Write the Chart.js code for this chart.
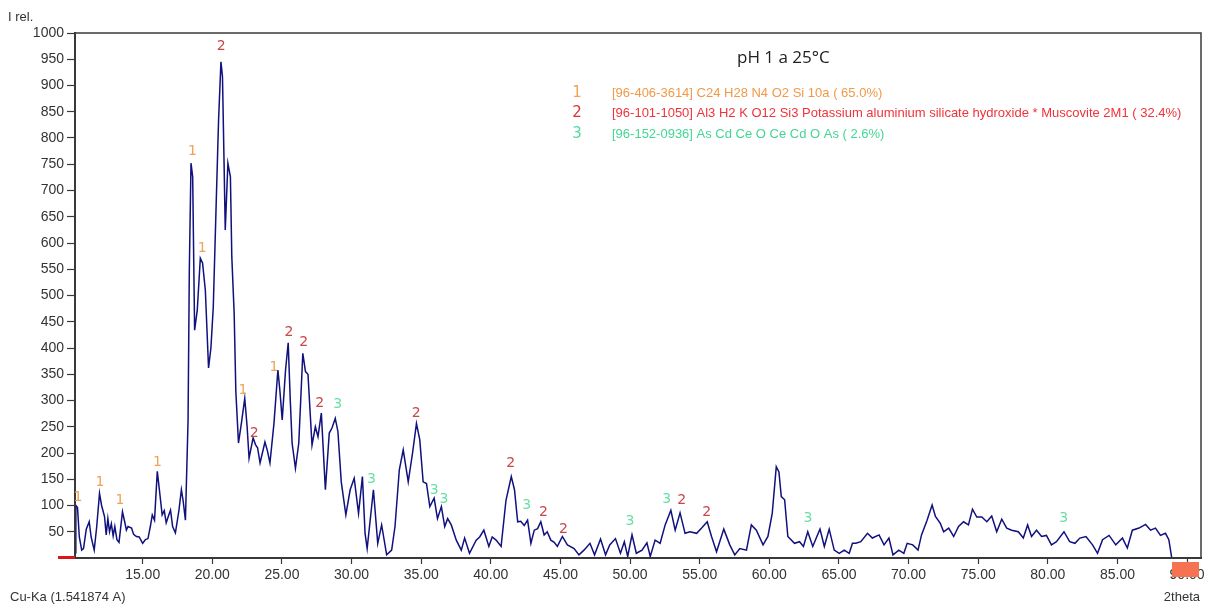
<!DOCTYPE html>
<html>
<head>
<meta charset="utf-8">
<title>pH 1 a 25°C</title>
<script src="https://cdn.jsdelivr.net/npm/chart.js@4/dist/chart.umd.min.js"></script>
<style>
  html, body { margin: 0; padding: 0; background: #fff; }
  #wrap { position: relative; width: 1209px; height: 605px; }
</style>
</head>
<body>
<div id="wrap"><canvas id="xrd"></canvas></div>
<script>
'use strict';

// ── Data ───────────────────────────────────────────────────────────────────────

// diffractogram, 2theta (deg) against relative intensity
const twoTheta = [
  10.15, 10.2, 10.32, 10.45, 10.62, 10.75, 10.95, 11.16, 11.3, 11.52, 11.7, 11.9,
  12.05, 12.26, 12.38, 12.5, 12.62, 12.75, 12.88, 13.0, 13.15, 13.3, 13.55, 13.7,
  13.83, 13.95, 14.2, 14.35, 14.55, 14.75, 15.0, 15.2, 15.38, 15.55, 15.69, 15.85,
  16.05, 16.2, 16.4, 16.55, 16.69, 16.85, 17.0, 17.15, 17.35, 17.6, 17.78, 17.9,
  18.07, 18.26, 18.35, 18.47, 18.59, 18.73, 18.92, 19.14, 19.3, 19.5, 19.73, 19.9,
  20.07, 20.26, 20.45, 20.62, 20.73, 20.85, 20.93, 21.12, 21.3, 21.4, 21.57, 21.69,
  21.88, 22.09, 22.33, 22.5, 22.64, 22.93, 23.1, 23.25, 23.43, 23.78, 23.95, 24.14,
  24.43, 24.71, 24.85, 25.02, 25.26, 25.45, 25.6, 25.73, 25.97, 26.21, 26.5, 26.69,
  26.87, 27.16, 27.4, 27.59, 27.83, 28.12, 28.4, 28.6, 28.83, 29.02, 29.26, 29.59,
  29.9, 30.19, 30.5, 30.78, 30.97, 31.12, 31.57, 31.88, 32.16, 32.52, 32.88, 33.12,
  33.43, 33.71, 34.07, 34.38, 34.66, 34.9, 35.14, 35.38, 35.62, 35.93, 36.17, 36.45,
  36.69, 36.9, 37.16, 37.52, 37.88, 38.12, 38.47, 38.95, 39.2, 39.5, 39.86, 40.1,
  40.38, 40.74, 41.09, 41.47, 41.7, 41.93, 42.15, 42.4, 42.64, 42.88, 43.12, 43.36,
  43.59, 43.83, 44.05, 44.31, 44.55, 44.78, 45.14, 45.5, 45.98, 46.33, 46.69, 47.12,
  47.45, 47.88, 48.24, 48.54, 48.95, 49.31, 49.59, 49.83, 50.14, 50.45, 50.86, 51.21,
  51.45, 51.8, 52.16, 52.52, 52.93, 53.24, 53.59, 53.95, 54.3, 54.78, 55.14, 55.54,
  55.85, 56.21, 56.73, 57.16, 57.52, 57.88, 58.36, 58.71, 59.07, 59.55, 59.9, 60.21,
  60.5, 60.69, 60.86, 61.1, 61.33, 61.81, 62.17, 62.45, 62.76, 63.12, 63.4, 63.64,
  63.95, 64.3, 64.66, 65.02, 65.38, 65.74, 65.97, 66.21, 66.57, 67.05, 67.4, 67.88,
  68.24, 68.59, 68.88, 69.3, 69.66, 69.9, 70.3, 70.68, 70.93, 71.33, 71.69, 71.93,
  72.28, 72.52, 72.88, 73.24, 73.59, 73.95, 74.3, 74.59, 74.9, 75.26, 75.62, 75.97,
  76.33, 76.69, 77.05, 77.4, 77.88, 78.24, 78.55, 78.83, 79.19, 79.55, 79.9, 80.26,
  80.62, 81.16, 81.57, 81.95, 82.3, 82.74, 83.21, 83.57, 83.93, 84.4, 84.88, 85.36,
  85.71, 86.07, 86.55, 87.02, 87.38, 87.73, 88.09, 88.45, 88.69, 88.9
];

const intensity = [
  10, 100, 96, 40, 15, 18, 55, 69, 40, 15, 60, 123,
  100, 79, 44, 75, 50, 65, 42, 60, 35, 30, 88, 70,
  53, 60, 57, 45, 41, 40, 28, 35, 37, 60, 82, 72,
  165, 130, 82, 90, 67, 80, 91, 60, 48, 90, 130, 110,
  72, 263, 549, 752, 726, 434, 472, 571, 562, 510, 362, 400,
  478, 657, 834, 945, 917, 745, 625, 752, 726, 574, 466, 317,
  219, 257, 304, 250, 190, 229, 216, 210, 181, 221, 205, 181,
  257, 358, 320, 263, 358, 410, 300, 219, 171, 219, 390, 355,
  350, 215, 250, 231, 276, 130, 238, 248, 266, 241, 145, 82,
  130, 152, 85, 155, 47, 18, 130, 28, 63, 6, 15, 60,
  168, 206, 145, 200, 256, 225, 145, 142, 98, 114, 75, 98,
  60, 75, 63, 34, 15, 38, 9, 34, 40, 53, 22, 40,
  34, 22, 110, 155, 130, 69, 70, 62, 72, 28, 53, 56,
  69, 44, 50, 34, 30, 22, 41, 25, 18, 6, 15, 28,
  6, 36, 6, 25, 37, 9, 31, 3, 44, 9, 15, 29,
  3, 34, 28, 63, 91, 53, 86, 47, 50, 47, 57, 69,
  41, 12, 55, 25, 6, 18, 15, 63, 53, 25, 41, 85,
  174, 164, 117, 111, 41, 28, 31, 22, 50, 22, 40, 55,
  22, 55, 15, 9, 15, 9, 28, 28, 31, 47, 38, 44,
  25, 38, 6, 15, 9, 28, 25, 15, 44, 72, 101, 79,
  66, 50, 57, 41, 60, 69, 63, 93, 78, 78, 69, 80,
  50, 74, 57, 53, 50, 38, 63, 41, 53, 41, 43, 25,
  31, 50, 31, 28, 38, 41, 25, 9, 35, 43, 25, 38,
  19, 53, 57, 64, 53, 57, 43, 47, 35, 0
];

// phase markers above the peaks: position, height and phase number
const peakX     = [10.35, 11.93, 13.36, 16.07, 18.57, 20.64, 19.28, 22.21, 23.0, 24.43,
                   25.5, 26.57, 27.71, 29.0, 31.43, 34.64, 35.93, 36.64, 41.43, 42.57,
                   43.78, 45.21, 50.0, 52.64, 53.71, 55.5, 62.78, 81.14];
const peakY     = [116, 145, 110, 183, 775, 975, 589, 320, 238, 364,
                   430, 411, 295, 293, 149, 276, 128, 112, 181, 101,
                   86, 55, 70, 112, 110, 86, 76, 76];
const peakPhase = [1, 1, 1, 1, 1, 2, 1, 1, 2, 1,
                   2, 2, 2, 3, 3, 2, 3, 3, 2, 3,
                   2, 2, 3, 3, 2, 2, 3, 3];

const phaseNames = [
  '[96-406-3614] C24 H28 N4 O2 Si 10a ( 65.0%)',
  '[96-101-1050] Al3 H2 K O12 Si3 Potassium aluminium silicate hydroxide * Muscovite 2M1 ( 32.4%)',
  '[96-152-0936] As Cd Ce O Ce Cd O As ( 2.6%)'
];

const yTicks = [50, 100, 150, 200, 250, 300, 350, 400, 450, 500,
                550, 600, 650, 700, 750, 800, 850, 900, 950, 1000];
const xTicks = [15, 20, 25, 30, 35, 40, 45, 50, 55, 60, 65, 70, 75, 80, 85, 90];

const X_MIN = 10.14;
const X_MAX = 91.0;

// ── Styles ─────────────────────────────────────────────────────────────────────

const AXIS = '#3a3a3a';
const TICK_TEXT = '#333';
const TRACE = '#10107e';
const markerColor = { 1: '#f0a257', 2: '#c8474a', 3: '#66dfa6' };
const legendNumColor = { 1: '#f2a35a', 2: '#d8343a', 3: '#55d99c' };
const legendTextColor = { 1: '#f09a48', 2: '#f0333a', 3: '#45d595' };

// ── Overlay: frame, markers, legend, captions ─────────────────────────────────

const overlay = {
  id: 'overlay',
  afterDraw(chart) {
    const { ctx, chartArea: a, scales } = chart;
    const xs = scales.x, ys = scales.y;
    ctx.save();

    // plot frame
    ctx.strokeStyle = AXIS;
    ctx.lineWidth = 1.5;
    ctx.strokeRect(a.left, a.top, a.right - a.left, a.bottom - a.top);

    // phase numbers over the peaks
    ctx.font = '14px "DejaVu Sans", Verdana, sans-serif';
    ctx.textAlign = 'center';
    ctx.textBaseline = 'middle';
    peakX.forEach((x, i) => {
      ctx.fillStyle = markerColor[peakPhase[i]];
      ctx.fillText(String(peakPhase[i]), xs.getPixelForValue(x), ys.getPixelForValue(peakY[i]));
    });

    // sample title
    ctx.fillStyle = '#222';
    ctx.font = '17px "Open Sans", "Noto Sans", sans-serif';
    ctx.textAlign = 'left';
    ctx.fillText('pH 1 a 25°C', 737, 58);

    // phase list
    phaseNames.forEach((name, i) => {
      const y = 93 + i * 20.5;
      ctx.font = '15px "DejaVu Sans", Verdana, sans-serif';
      ctx.fillStyle = legendNumColor[i + 1];
      ctx.textAlign = 'center';
      ctx.fillText(String(i + 1), 577, y);
      ctx.font = '13px "Liberation Sans", Arial, sans-serif';
      ctx.fillStyle = legendTextColor[i + 1];
      ctx.textAlign = 'left';
      ctx.fillText(name, 612, y);
    });

    // axis captions
    ctx.fillStyle = TICK_TEXT;
    ctx.font = '13px "Liberation Sans", Arial, sans-serif';
    ctx.textAlign = 'left';
    ctx.fillText('I rel.', 8, 17);
    ctx.fillText('Cu-Ka (1.541874 A)', 10, 597);
    ctx.textAlign = 'right';
    ctx.fillText('2theta', 1200, 597);

    // range markers at both ends of the x axis
    ctx.fillStyle = '#d81818';
    ctx.fillRect(a.left - 17, a.bottom - 2, 17, 3);
    ctx.fillStyle = '#f57352';
    ctx.fillRect(a.right - 29, a.bottom + 4, 27, 15);

    ctx.restore();
  }
};

// ── Chart ──────────────────────────────────────────────────────────────────────

const points = twoTheta.map((x, i) => ({ x, y: intensity[i] }));

new Chart(document.getElementById('xrd'), {
  type: 'line',
  data: {
    datasets: [{
      data: points,
      borderColor: TRACE,
      borderWidth: 1.5,
      pointRadius: 0,
      tension: 0,
      fill: false,
    }],
  },
  options: {
    responsive: true,
    maintainAspectRatio: false,
    animation: false,
    events: [],
    layout: { padding: { top: 33, right: 8, left: 0, bottom: 0 } },
    plugins: { legend: { display: false }, tooltip: { enabled: false } },
    scales: {
      x: {
        type: 'linear',
        min: X_MIN,
        max: X_MAX,
        afterFit: s => { s.height = 47; },
        afterBuildTicks: s => { s.ticks = xTicks.map(v => ({ value: v })); },
        border: { color: AXIS, width: 2 },
        grid: { drawOnChartArea: false, drawTicks: true, tickLength: 6, tickColor: AXIS, tickWidth: 1.2 },
        ticks: {
          color: TICK_TEXT,
          padding: 3,
          maxRotation: 0,
          autoSkip: false,
          font: { family: '"Liberation Sans", Arial, sans-serif', size: 14 },
          callback: v => v.toFixed(2),
        },
      },
      y: {
        type: 'linear',
        min: 0,
        max: 1000,
        afterFit: s => { s.width = 75; },
        afterBuildTicks: s => { s.ticks = yTicks.map(v => ({ value: v })); },
        border: { color: AXIS, width: 2 },
        grid: { drawOnChartArea: false, drawTicks: true, tickLength: 8, tickColor: AXIS, tickWidth: 1.2 },
        ticks: {
          color: TICK_TEXT,
          padding: 3,
          autoSkip: false,
          font: { family: '"Liberation Sans", Arial, sans-serif', size: 14 },
          callback: v => String(v),
        },
      },
    },
  },
  plugins: [overlay],
});
</script>
</body>
</html>
